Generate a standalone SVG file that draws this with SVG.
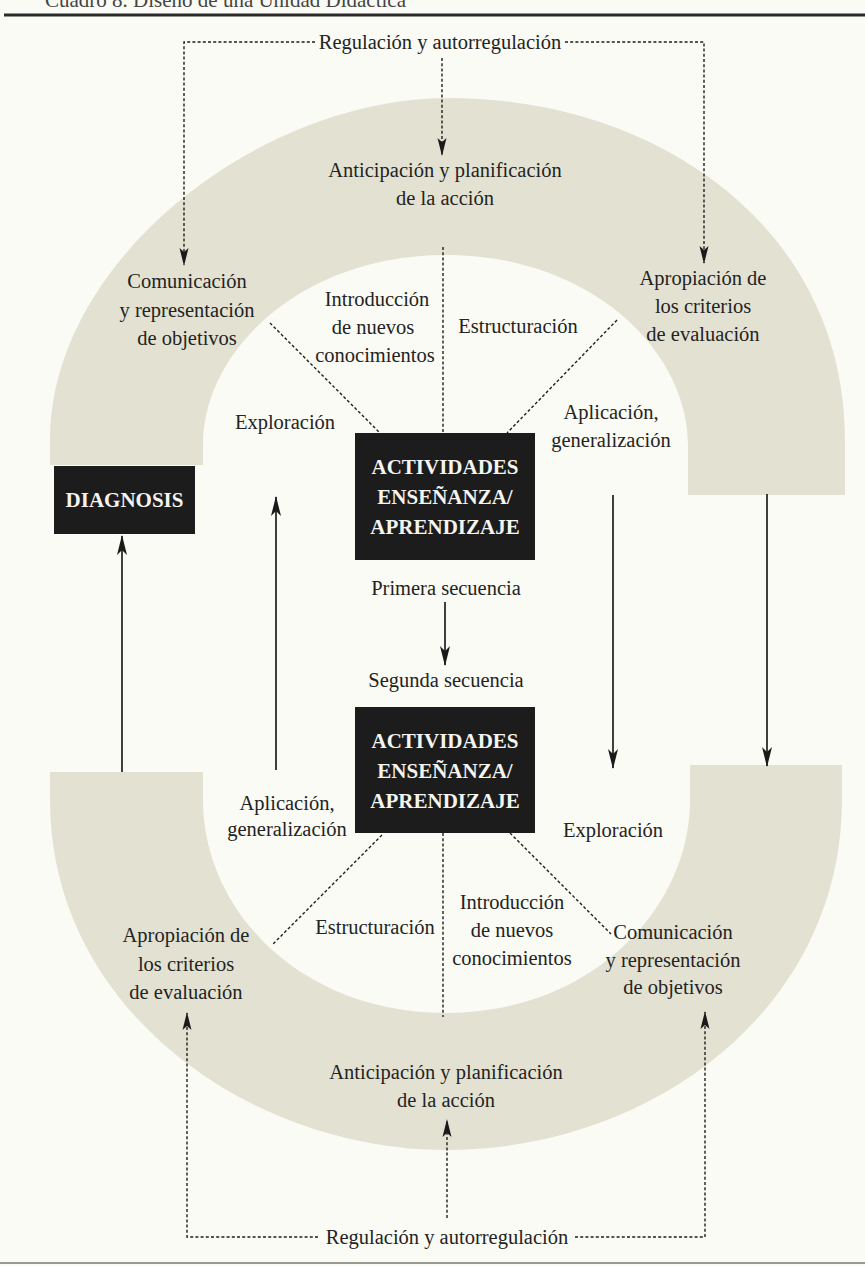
<svg xmlns="http://www.w3.org/2000/svg" width="865" height="1266" viewBox="0 0 865 1266">
<defs>
<style>
.t{font-family:"Liberation Serif","Times New Roman",serif;font-size:20.5px;fill:#232323;text-anchor:middle}
.b{font-family:"Liberation Serif","Times New Roman",serif;font-size:21px;font-weight:bold;fill:#f4f4f0;text-anchor:middle}
.ring{fill:#e3e2d2}
.box{fill:#1c1c1c}
.sol{stroke:#1e1e1e;stroke-width:1.7;fill:none}
.dash{stroke:#1e1e1e;stroke-width:1.4;fill:none;stroke-dasharray:3 2.2}
</style>
<marker id="ah" markerUnits="userSpaceOnUse" markerWidth="20" markerHeight="10" refX="19" refY="5" orient="auto">
<path d="M0,0 L20,5 L0,10 L5,5 Z" fill="#1a1a1a"/>
</marker>
<marker id="ahd" markerUnits="userSpaceOnUse" markerWidth="18" markerHeight="10" refX="17" refY="5" orient="auto">
<path d="M0,0.5 L18,5 L0,9.5 L4,5 Z" fill="#1a1a1a"/>
</marker>
</defs>
<rect width="865" height="1266" fill="#fbfbf5"/>
<text x="45" y="7" style="font-family:'Liberation Serif',serif;font-size:21px;fill:#444">Cuadro 8. Diseño de una Unidad Didáctica</text>
<line x1="4" y1="15" x2="865" y2="15" stroke="#2a2a2a" stroke-width="3"/>
<line x1="0" y1="1263" x2="865" y2="1263" stroke="#9a9a94" stroke-width="2"/>

<g id="ring-upper">
<path class="ring" d="M50,465 L50,440 C50,260 260,98 448,98 C660,98 845,230 845,440 L845,495 L688,495 L688,445 C688,350 590,255 446,255 C302,255 203,350 203,445 L203,465 Z"/>
</g>
<g id="ring-lower">
<path class="ring" d="M50,772 L50,800 C50,1010 250,1150 447,1150 C650,1150 842,1010 842,800 L842,765 L690,765 L690,800 C690,910 590,1013 446,1013 C300,1013 203,910 203,800 L203,772 Z"/>
</g>

<g id="connectors">
<polyline class="dash" points="315,42 184,42 184,265" marker-end="url(#ahd)"/>
<polyline class="dash" points="565,42 704,42 704,263" marker-end="url(#ahd)"/>
<line class="dash" x1="442" y1="58" x2="442" y2="155" marker-end="url(#ahd)"/>
<line class="dash" x1="443" y1="247" x2="443" y2="433"/>
<line class="dash" x1="270" y1="323" x2="380" y2="433"/>
<line class="dash" x1="617" y1="320" x2="507" y2="433"/>
<line class="dash" x1="443" y1="833" x2="443" y2="1017"/>
<line class="dash" x1="382" y1="835" x2="273" y2="944"/>
<line class="dash" x1="510" y1="833" x2="611" y2="934"/>
<polyline class="dash" points="318,1237 187,1237 187,1013" marker-end="url(#ahd)"/>
<polyline class="dash" points="575,1237 705,1237 705,1012" marker-end="url(#ahd)"/>
<line class="dash" x1="447" y1="1218" x2="447" y2="1120" marker-end="url(#ahd)"/>
<line class="sol" x1="122" y1="772" x2="122" y2="536" marker-end="url(#ah)"/>
<line class="sol" x1="276" y1="770" x2="276" y2="497" marker-end="url(#ah)"/>
<line class="sol" x1="613" y1="495" x2="613" y2="768" marker-end="url(#ah)"/>
<line class="sol" x1="767" y1="494" x2="767" y2="766" marker-end="url(#ah)"/>
<line class="sol" x1="445" y1="602" x2="445" y2="665" marker-end="url(#ah)"/>
</g>

<g id="reg-top"><text class="t" x="440" y="49">Regulación y autorregulación</text></g>
<g id="reg-bottom"><text class="t" x="447" y="1244">Regulación y autorregulación</text></g>

<g id="antic-top"><text class="t" x="445" y="177">Anticipación y planificación</text><text class="t" x="445" y="205">de la acción</text></g>
<g id="comun-top"><text class="t" x="187" y="288">Comunicación</text><text class="t" x="187" y="317">y representación</text><text class="t" x="187" y="345">de objetivos</text></g>
<g id="aprop-top"><text class="t" x="703" y="285">Apropiación de</text><text class="t" x="703" y="313">los criterios</text><text class="t" x="703" y="341">de evaluación</text></g>
<g id="intro-top"><text class="t" x="377" y="306">Introducción</text><text class="t" x="373" y="334">de nuevos</text><text class="t" x="375" y="362">conocimientos</text></g>
<g id="estr-top"><text class="t" x="518" y="333">Estructuración</text></g>
<g id="expl-top"><text class="t" x="285" y="429">Exploración</text></g>
<g id="apl-top"><text class="t" x="611" y="419">Aplicación,</text><text class="t" x="611" y="447">generalización</text></g>

<g id="diagnosis"><rect class="box" x="54" y="466" width="141" height="68"/><text class="b" x="124.5" y="507">DIAGNOSIS</text></g>

<g id="act1"><rect class="box" x="355" y="433" width="180" height="127"/><text class="b" x="445" y="474">ACTIVIDADES</text><text class="b" x="445" y="504">ENSEÑANZA/</text><text class="b" x="445" y="534">APRENDIZAJE</text></g>
<g id="primera"><text class="t" x="446" y="595">Primera secuencia</text></g>
<g id="segunda"><text class="t" x="446" y="687">Segunda secuencia</text></g>
<g id="act2"><rect class="box" x="355" y="707" width="180" height="126"/><text class="b" x="445" y="748">ACTIVIDADES</text><text class="b" x="445" y="778">ENSEÑANZA/</text><text class="b" x="445" y="808">APRENDIZAJE</text></g>

<g id="apl-bottom"><text class="t" x="287" y="810">Aplicación,</text><text class="t" x="287" y="836">generalización</text></g>
<g id="expl-bottom"><text class="t" x="613" y="837">Exploración</text></g>
<g id="estr-bottom"><text class="t" x="375" y="934">Estructuración</text></g>
<g id="intro-bottom"><text class="t" x="512" y="909">Introducción</text><text class="t" x="512" y="937">de nuevos</text><text class="t" x="512" y="965">conocimientos</text></g>
<g id="aprop-bottom"><text class="t" x="186" y="942">Apropiación de</text><text class="t" x="186" y="971">los criterios</text><text class="t" x="186" y="999">de evaluación</text></g>
<g id="comun-bottom"><text class="t" x="673" y="939">Comunicación</text><text class="t" x="673" y="967">y representación</text><text class="t" x="673" y="994">de objetivos</text></g>
<g id="antic-bottom"><text class="t" x="446" y="1079">Anticipación y planificación</text><text class="t" x="446" y="1107">de la acción</text></g>
</svg>
